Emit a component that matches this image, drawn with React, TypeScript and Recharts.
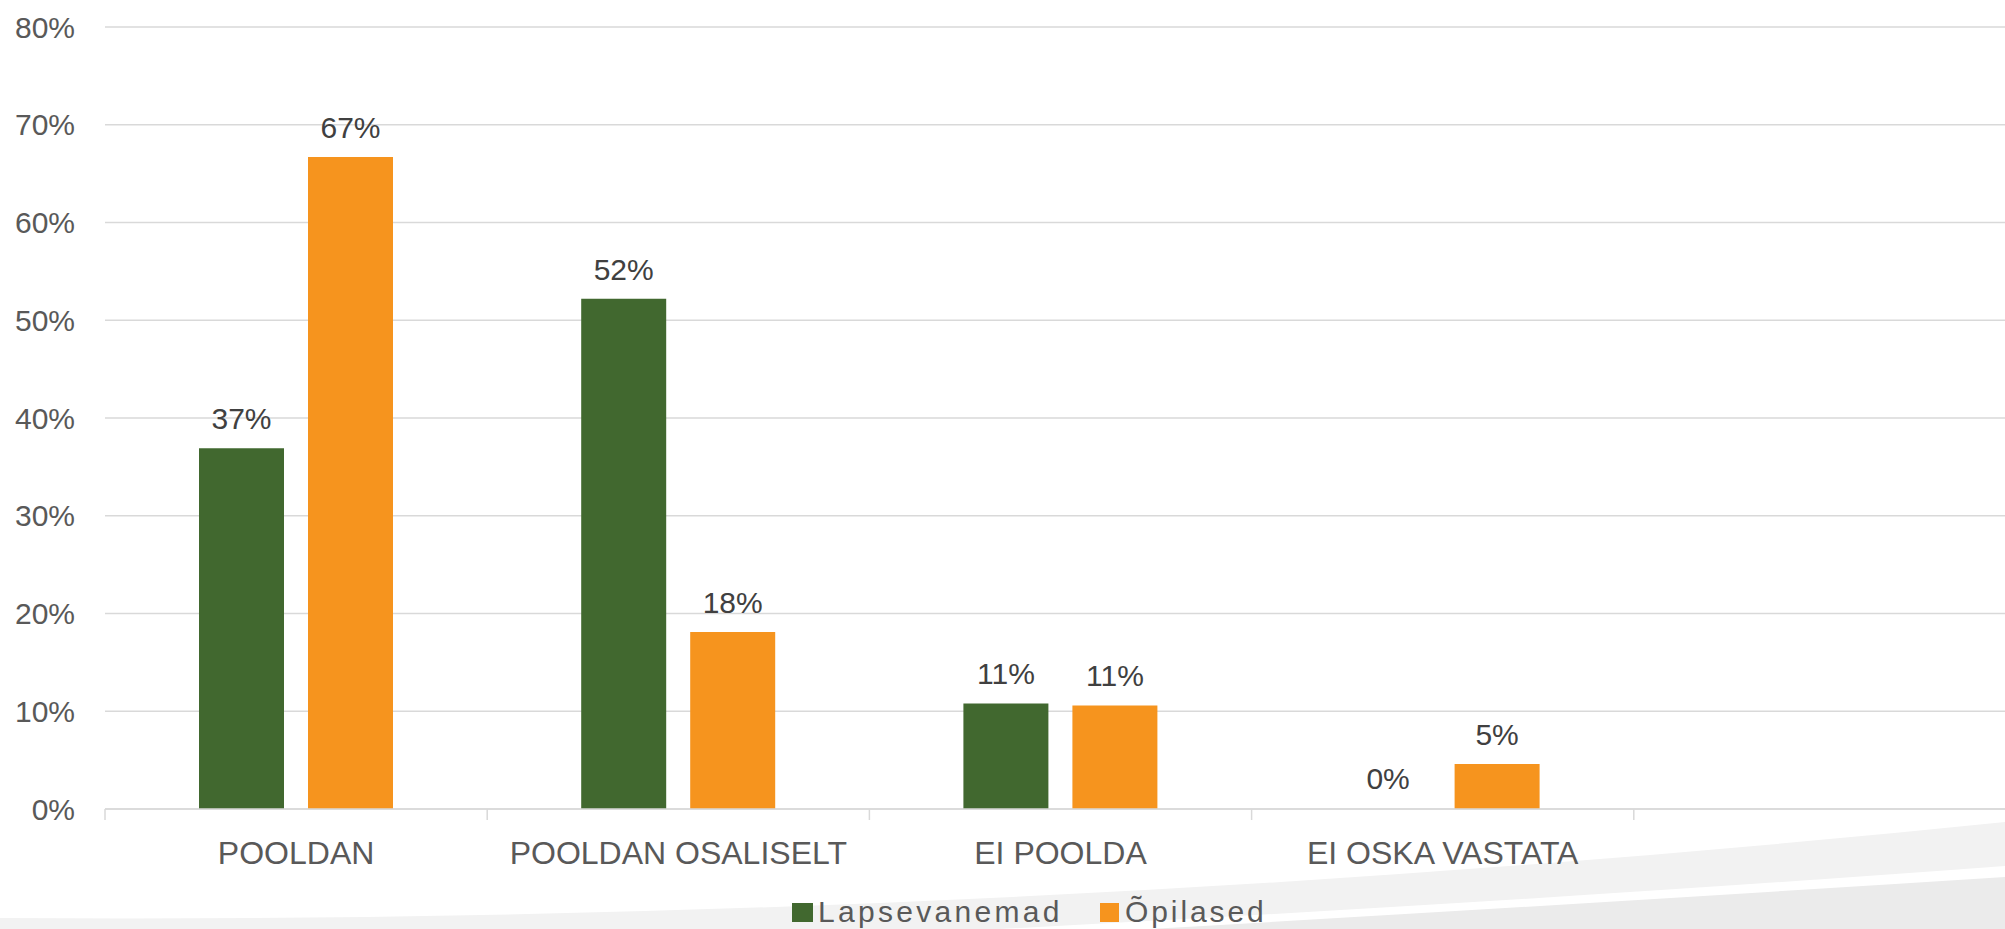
import React from "react";
import { BarChart, Bar, XAxis, YAxis, CartesianGrid, LabelList, Legend, Rectangle } from "recharts";

const categories = ["POOLDAN", "POOLDAN OSALISELT", "EI POOLDA", "EI OSKA VASTATA", ""];
const lapsevanemad: (number | null)[] = [36.9, 52.2, 10.8, 0, null];
const opilased: (number | null)[] = [66.7, 18.1, 10.6, 4.6, null];
const yTicks = [0, 10, 20, 30, 40, 50, 60, 70, 80];
const seriesNames = ["Lapsevanemad", "Õpilased"];
const seriesKeys = ["lapsevanemad", "opilased"];
const seriesColors = ["#41682F", "#F6941E"];

const data = categories.map((name, i) => ({
  name,
  lapsevanemad: lapsevanemad[i],
  opilased: opilased[i],
}));

const FONT = "'Liberation Sans', Arial, sans-serif";
const AXIS_COLOR = "#595959";
const LABEL_COLOR = "#404040";
const GRID = "#d9d9d9";
const TICK_SIZE = 11;
const TICK_MARGIN = 21;

const XTick = (props: any) => {
  const { x, y, payload } = props;
  const off = payload && payload.offset ? payload.offset : 0;
  const axisY = y - TICK_MARGIN - TICK_SIZE;
  return (
    <g>
      <line x1={x - off} x2={x - off} y1={axisY} y2={axisY + TICK_SIZE} stroke={GRID} strokeWidth={1.5} />
      <text x={x} y={y} dy="0.71em" textAnchor="middle" fill={AXIS_COLOR} fontSize={32} fontFamily={FONT}>
        {payload.value}
      </text>
    </g>
  );
};

const DataLabel = (props: any) => {
  const { x, y, width, value } = props;
  if (value === null || value === undefined) return null;
  return (
    <text x={x + width / 2} y={y - 19} textAnchor="middle" fill={LABEL_COLOR} fontSize={30} fontFamily={FONT}>
      {Math.round(value) + "%"}
    </text>
  );
};

// draws the bar only when its value is above zero (zero-value bars keep their label)
const makeShape = (key: string) => (props: any) => {
  const v = props.payload ? props.payload[key] : null;
  if (v === null || v === undefined || v === 0) return <g />;
  return <Rectangle {...props} />;
};

const zeroMin = (value: any) => (value === 0 ? 1 : 0);

const LegendContent = () => (
  <svg width={520} height={38} style={{ display: "block", overflow: "visible" }}>
    <rect x={2} y={14} width={21} height={19} fill={seriesColors[0]} />
    <text x={28} y={33} fill={AXIS_COLOR} fontSize={30} fontFamily={FONT} letterSpacing={3.3}>
      {seriesNames[0]}
    </text>
    <rect x={310} y={14} width={19} height={19} fill={seriesColors[1]} />
    <text x={335} y={33} fill={AXIS_COLOR} fontSize={30} fontFamily={FONT} letterSpacing={2.9}>
      {seriesNames[1]}
    </text>
  </svg>
);

export default function App() {
  return (
    <div style={{ position: "absolute", left: 0, top: 0, width: 2005, height: 929, overflow: "hidden", background: "#ffffff" }}>
      <svg width={2005} height={929} style={{ position: "absolute", left: 0, top: 0 }}>
        <path d="M0,918 Q1000,925 2005,822 L2005,929 L0,929 Z" fill="#f2f2f2" />
        <path d="M1000,929 Q1550,900 2005,866 L2005,929 Z" fill="#ffffff" />
        <path d="M1150,929 Q1600,903 2005,877 L2005,929 Z" fill="#ebebeb" />
      </svg>
      <div style={{ position: "absolute", left: 0, top: 0 }}>
        <BarChart
          width={2016}
          height={929}
          data={data}
          margin={{ top: 27, right: 0, left: 0, bottom: 2 }}
          barCategoryGap={94}
          barGap={24}
        >
          <CartesianGrid vertical={false} stroke={GRID} strokeWidth={1.5} />
          <XAxis
            dataKey="name"
            interval={0}
            height={80}
            tickSize={TICK_SIZE}
            tickMargin={TICK_MARGIN}
            tickLine={false}
            axisLine={{ stroke: GRID, strokeWidth: 1.5 }}
            tick={<XTick />}
          />
          <YAxis
            domain={[0, 80]}
            ticks={yTicks}
            width={105}
            tickSize={0}
            tickMargin={30}
            axisLine={false}
            tickLine={false}
            tickFormatter={(v: number) => v + "%"}
            tick={{ fill: AXIS_COLOR, fontSize: 30, fontFamily: FONT }}
          />
          <Legend
            verticalAlign="bottom"
            content={<LegendContent />}
            wrapperStyle={{ left: 790, width: 520, height: 38, bottom: 2 }}
          />
          {seriesKeys.map((key, i) => (
            <Bar
              key={key}
              dataKey={key}
              name={seriesNames[i]}
              fill={seriesColors[i]}
              minPointSize={zeroMin}
              shape={makeShape(key)}
              isAnimationActive={false}
            >
              <LabelList dataKey={key} content={<DataLabel />} />
            </Bar>
          ))}
        </BarChart>
      </div>
    </div>
  );
}
